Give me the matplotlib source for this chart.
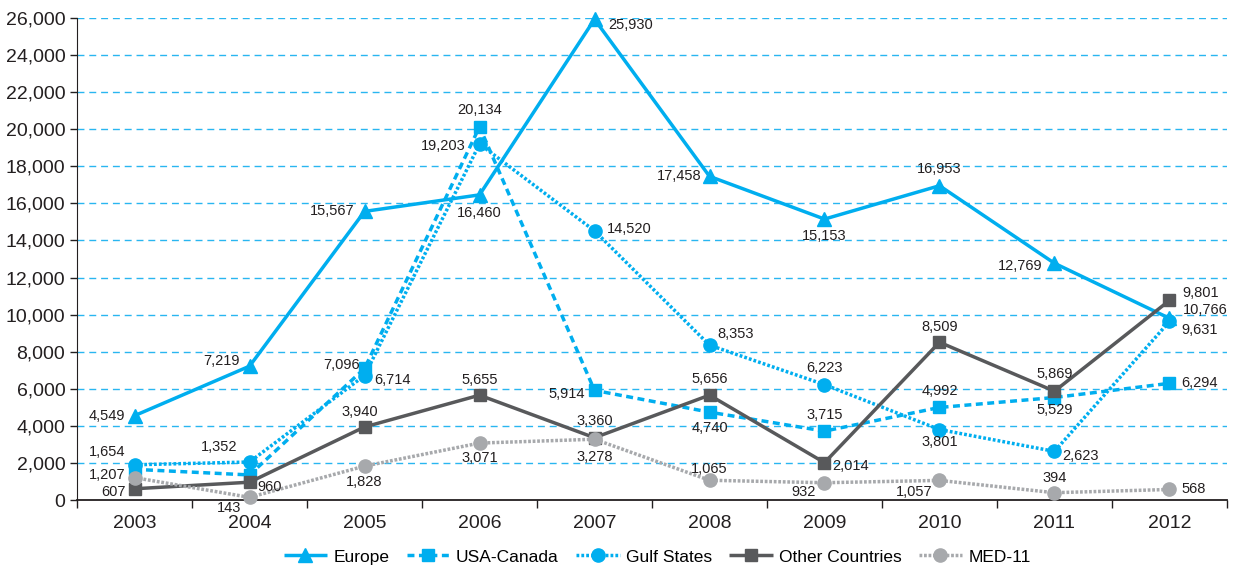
import numpy as np
import matplotlib.pyplot as plt
from matplotlib.ticker import FuncFormatter, FixedLocator

plt.rcParams["font.family"] = ["Liberation Sans", "DejaVu Sans"]

years = ["2003", "2004", "2005", "2006", "2007", "2008", "2009", "2010", "2011", "2012"]

europe = [4549, 7219, 15567, 16460, 25930, 17458, 15153, 16953, 12769, 9801]
usa_canada = [1654, 1352, 7096, 20134, 5914, 4740, 3715, 4992, 5529, 6294]
gulf_states = [1900, 2050, 6714, 19203, 14520, 8353, 6223, 3801, 2623, 9631]
other_countries = [607, 960, 3940, 5655, 3360, 5656, 2014, 8509, 5869, 10766]
med11 = [1207, 143, 1828, 3071, 3278, 1065, 932, 1057, 394, 568]

# which points carry a data label (gulf 2003/2004 are unlabelled in the source)
gulf_labelled = [False, False, True, True, True, True, True, True, True, True]

CYAN = "#00AEEF"
DARK = "#58595B"
LIGHT = "#A7A9AC"

# label placement: (dx, dy) in pixels, horizontal alignment
lab_europe = [(-9, 0, "right"), (-10, 5, "right"), (-10, 0, "right"), (0, -18, "center"),
              (14, -6, "left"), (-8, 0, "right"), (0, -17, "center"), (0, 17, "center"),
              (-12, -3, "right"), (13, 25, "left")]
lab_usa = [(-9, 17, "right"), (-12, 28, "right"), (-5, 3, "right"), (0, 17, "center"),
           (-10, -4, "right"), (0, -16, "center"), (0, 16, "center"), (0, 16, "center"),
           (0, -12, "center"), (12, 0, "left")]
lab_gulf = [(0, 0, "center"), (0, 0, "center"), (10, -4, "left"), (-14, -2, "right"),
            (12, 2, "left"), (8, 11, "left"), (0, 17, "center"), (0, -12, "center"),
            (8, -5, "left"), (12, -9, "left")]
lab_other = [(-9, -3, "right"), (8, -5, "left"), (-5, 15, "center"), (0, 15, "center"),
             (0, 17, "center"), (0, 16, "center"), (8, -3, "left"), (0, 15, "center"),
             (0, 17, "center"), (13, -10, "left")]
lab_med = [(-9, 3, "right"), (-8, -11, "right"), (0, -16, "center"), (0, -15, "center"),
           (0, -18, "center"), (0, 11, "center"), (-9, -9, "right"), (-7, -12, "right"),
           (0, 15, "center"), (12, 0, "left")]

fig = plt.figure(figsize=(12.33, 5.66), dpi=100)
ax = fig.add_axes([0.0625, 0.1166, 0.9326, 0.8516])

x = np.arange(len(years))

series = [
    ("Europe", europe, dict(color=CYAN, lw=2.5, marker="^", ms=10), lab_europe, None),
    ("USA-Canada", usa_canada, dict(color=CYAN, lw=2.5, marker="s", ms=9, dashes=(2.0, 1.3)), lab_usa, None),
    ("Gulf States", gulf_states, dict(color=CYAN, lw=2.5, marker="o", ms=9.5, dashes=(0.8, 0.6)), lab_gulf, gulf_labelled),
    ("Other Countries", other_countries, dict(color=DARK, lw=2.5, marker="s", ms=9), lab_other, None),
    ("MED-11", med11, dict(color=LIGHT, lw=2.5, marker="o", ms=9.5, dashes=(0.8, 0.5)), lab_med, None),
]

for name, vals, style, labs, mask in series:
    ax.plot(x, vals, label=name, clip_on=False, zorder=3, solid_capstyle="butt",
            dash_capstyle="butt", **style)
    for i, v in enumerate(vals):
        if mask is not None and not mask[i]:
            continue
        dx, dy, ha = labs[i]
        ax.annotate(f"{v:,}", (x[i], v), xytext=(dx, dy), textcoords="offset pixels",
                    ha=ha, va="center", fontsize=10.5, color="#231F20", zorder=5)

ax.set_xlim(-0.5, len(years) - 0.5)
ax.set_ylim(0, 26000)
ax.set_yticks(np.arange(0, 26001, 2000))
ax.yaxis.set_major_formatter(FuncFormatter(lambda v, p: f"{int(v):,}"))
ax.tick_params(axis="y", labelsize=14, length=5, width=1, direction="out", colors="#231F20")

ax.set_xticks(x)
ax.set_xticklabels(years)
ax.tick_params(axis="x", which="major", length=0, labelsize=14, pad=11, colors="#231F20")
ax.xaxis.set_minor_locator(FixedLocator(np.arange(-0.5, len(years), 1.0)))
ax.tick_params(axis="x", which="minor", length=6, width=1, direction="out", color="#231F20")

for yv in np.arange(2000, 26001, 2000):
    ax.axhline(yv, color="#29B6F0", lw=1, dashes=(5, 3.5), zorder=1)

for s in ["top", "right"]:
    ax.spines[s].set_visible(False)
ax.spines["left"].set_color("#231F20")
ax.spines["bottom"].set_color("#231F20")
ax.spines["bottom"].set_linewidth(1.3)

fig.legend(loc="center", bbox_to_anchor=(0.533, 0.016), ncol=5, frameon=False,
           fontsize=12.5, handlelength=2.5, columnspacing=1.0, handletextpad=0.35)

fig.savefig("out.png", dpi=100)
